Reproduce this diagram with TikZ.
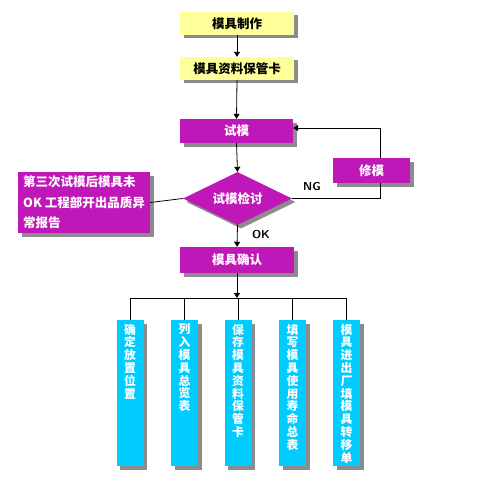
\documentclass[tikz,border=0pt]{standalone}
\usepackage{fontspec}
\newfontfamily\cjk{Noto Sans CJK SC}
\usetikzlibrary{shapes.geometric,shadows,arrows.meta}
\definecolor{pur}{RGB}{192,24,184}
\definecolor{cyanbox}{RGB}{0,204,255}
\definecolor{yel}{RGB}{255,255,153}
\tikzset{
  sh/.style={drop shadow={shadow xshift=3.5pt,shadow yshift=-3.5pt,fill=black,opacity=0.45}},
  ybox/.style={rectangle,sh,fill=yel,draw=none,minimum width=114pt,minimum height=23pt,inner sep=0pt,font=\cjk\bfseries\fontsize{12.5}{14}\selectfont,text=black},
  pbox/.style={rectangle,sh,fill=pur,draw=none,inner sep=0pt,font=\cjk\bfseries\fontsize{12.5}{14}\selectfont,text=white},
  cbox/.style={rectangle,sh,fill=cyanbox,draw=none,minimum width=27pt,minimum height=146pt,inner sep=0pt},
  ctext/.style={anchor=north,align=center,inner sep=0pt,text=white,font=\cjk\bfseries\fontsize{11.8}{12.8}\selectfont},
  conn/.style={draw=black,line width=0.8pt},
  arr/.style={conn,-{Triangle[length=5pt,width=6pt]}},
  lbl/.style={font=\bfseries\sffamily\fontsize{11.5}{13}\selectfont,text=black,inner sep=0pt}
}
\begin{document}
\begin{tikzpicture}[x=1pt,y=-1pt]
\fill[white] (0,0) rectangle (500,500);
\useasboundingbox (0,0) rectangle (500,500);
\node[ybox] (n1) at (237,23.5) {模具制作};
\node[ybox] (n2) at (237,68.5) {模具资料保管卡};
\node[pbox,minimum width=113pt,minimum height=24pt] (n3) at (236.5,131) {试模};
\node[diamond,sh,fill=pur,draw=none,inner sep=0pt,minimum width=109pt,minimum height=53pt,aspect=2.06,font=\cjk\bfseries\fontsize{12.5}{14}\selectfont,text=white] (d) at (237.5,198.5) {试模检讨};
\node[pbox,minimum width=132pt,minimum height=61pt,align=left,font=\cjk\bfseries\fontsize{12.5}{20.5}\selectfont] (L) at (84,202.5) {第三次试模后模具未\\OK 工程部开出品质异\\常报告};
\node[pbox,minimum width=77pt,minimum height=25pt] (M) at (371.5,170.5) {修模};
\node[pbox,minimum width=114pt,minimum height=26pt] (C) at (237,260) {模具确认};
\node[cbox] (B1) at (130,393) {};
\node[cbox] (B2) at (184.5,393) {};
\node[cbox] (B3) at (238,393) {};
\node[cbox] (B4) at (292.5,393) {};
\node[cbox] (B5) at (346.5,393) {};
\node[ctext] (t1) at (B1.north) [yshift=-4pt] {确\\定\\放\\置\\位\\置};
\node[ctext] (t2) at (B2.north) [yshift=-4pt] {列\\入\\模\\具\\总\\览\\表};
\node[ctext] (t3) at (B3.north) [yshift=-4pt] {保\\存\\模\\具\\资\\料\\保\\管\\卡};
\node[ctext] (t4) at (B4.north) [yshift=-4pt] {填\\写\\模\\具\\使\\用\\寿\\命\\总\\表};
\node[ctext] (t5) at (B5.north) [yshift=-4pt] {模\\具\\进\\出\\厂\\填\\模\\具\\转\\移\\单};
\node[lbl] (ng) at (312,187) {NG};
\node[lbl] (ok) at (261,235) {OK};
\coordinate (r1) at (380,198.5);
\coordinate (r2) at (380,128);
\coordinate (bus) at (237,298);
\draw[arr] (n1.south) -- (n2.north);
\draw[arr] (n2.south) -- (n3.north);
\draw[arr] (n3.south) -- (d.north);
\draw[conn] (d.west) -- (L.east);
\draw[conn] (d.east) -- (r1) -- (M.south -| r1);
\draw[arr] (M.north -| r1) -- (r2) -- (n3.east |- r2);
\draw[arr] (d.south) -- (C.north);
\draw[arr] (C.south) -- (bus);
\draw[conn] (B1.north |- bus) -- (B5.north |- bus);
\foreach \b in {B1,B2,B3,B4,B5} \draw[conn] (\b.north |- bus) -- (\b.north);
\end{tikzpicture}
\end{document}
